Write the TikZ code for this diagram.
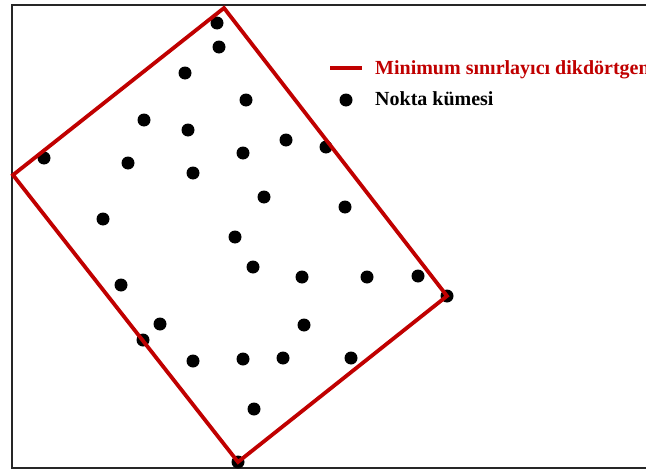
\documentclass[tikz,border=0pt]{standalone}
\usepackage{fontspec}
\setmainfont{Liberation Serif}
\usetikzlibrary{positioning}
\definecolor{mbrred}{RGB}{192,0,0}

\begin{document}
\begin{tikzpicture}[
  x=1pt, y=-1pt,
  pt/.style={circle, fill=black, minimum size=13pt, inner sep=0pt},
  mbr/.style={draw=mbrred, line width=3.8pt, line join=miter},
  legtext/.style={anchor=base west, inner sep=0pt, font=\fontsize{20}{22}\selectfont\bfseries}
]
  \useasboundingbox (0,0) rectangle (646,471);

  % Plot frame (cut at the right)
  \draw[line width=2pt, black!85] (670,5) -- (12,5) -- (12,468) -- (670,468);

  % Point set
  \node[pt] (p1) at (217,23) {};
  \node[pt] (p2) at (219,47) {};
  \node[pt] (p3) at (185,73) {};
  \node[pt] (p4) at (246,100) {};
  \node[pt] (p5) at (144,120) {};
  \node[pt] (p6) at (188,130) {};
  \node[pt] (p7) at (44,158) {};
  \node[pt] (p8) at (128,163) {};
  \node[pt] (p9) at (243,153) {};
  \node[pt] (p10) at (286,140) {};
  \node[pt] (p11) at (326,147) {};
  \node[pt] (p12) at (193,173) {};
  \node[pt] (p13) at (264,197) {};
  \node[pt] (p14) at (345,207) {};
  \node[pt] (p15) at (103,219) {};
  \node[pt] (p16) at (235,237) {};
  \node[pt] (p17) at (253,267) {};
  \node[pt] (p18) at (302,277) {};
  \node[pt] (p19) at (367,277) {};
  \node[pt] (p20) at (418,276) {};
  \node[pt] (p21) at (447,296) {};
  \node[pt] (p22) at (121,285) {};
  \node[pt] (p23) at (160,324) {};
  \node[pt] (p24) at (304,325) {};
  \node[pt] (p25) at (143,340) {};
  \node[pt] (p26) at (193,361) {};
  \node[pt] (p27) at (243,359) {};
  \node[pt] (p28) at (283,358) {};
  \node[pt] (p29) at (351,358) {};
  \node[pt] (p30) at (254,409) {};
  \node[pt] (p31) at (238,462) {};

  % Minimum bounding rectangle
  \coordinate (top) at (224,8);
  \coordinate (left) at (13,175);
  \coordinate (bottom) at (238,462);
  \coordinate (right) at (447,296);
  \draw[mbr] (top) -- (right) -- (bottom) -- (left) -- cycle;

  % Legend
  \coordinate (legA) at (330,68);
  \coordinate (legB) at (362,68);
  \draw[draw=mbrred, line width=3.8pt] (legA) -- (legB);
  \node[legtext, text=mbrred] (legmbr) at (375,74) {Minimum sınırlayıcı dikdörtgen};
  \node[pt] (legdot) at (346,100) {};
  \node[legtext] (legpts) at (375,105) {Nokta kümesi};

\end{tikzpicture}
\end{document}
